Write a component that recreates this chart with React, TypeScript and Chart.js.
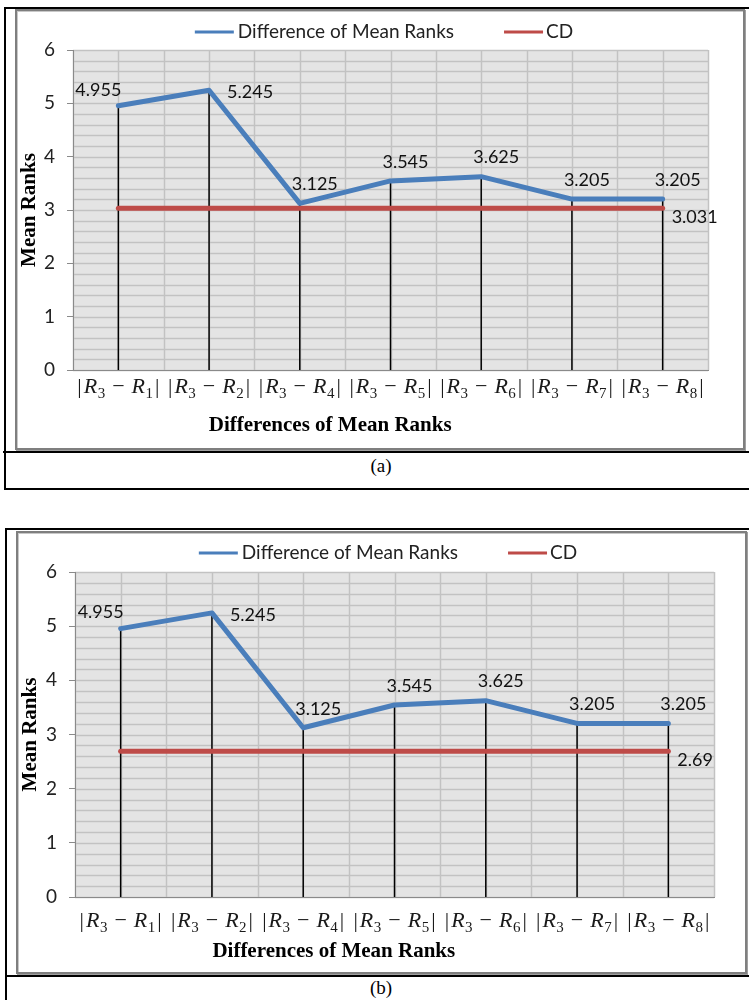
import React, { useEffect, useRef } from 'react';
import { Chart, registerables } from 'chart.js';

Chart.register(...registerables);

// ---------- data ----------
const categories = ['|R3 − R1|', '|R3 − R2|', '|R3 − R4|', '|R3 − R5|', '|R3 − R6|', '|R3 − R7|', '|R3 − R8|'];
const diffMeanRanksA = [4.955, 5.245, 3.125, 3.545, 3.625, 3.205, 3.205];
const cdA = [3.031, 3.031, 3.031, 3.031, 3.031, 3.031, 3.031];
const diffMeanRanksB = [4.955, 5.245, 3.125, 3.545, 3.625, 3.205, 3.205];
const cdB = [2.69, 2.69, 2.69, 2.69, 2.69, 2.69, 2.69];
const seriesNames = ['Difference of Mean Ranks', 'CD'];
const yTitle = 'Mean Ranks';
const xTitle = 'Differences of Mean Ranks';
const captions = ['(a)', '(b)'];

// ---------- style ----------
const BLUE = '#4a7ebb';
const RED = '#be4b48';
const PLOT_BG = '#e4e4e4';
const GRID = '#c2c2c2';
const AXIS = '#8a8a8a';
const SANS = 'Lato';
const SERIF = 'Liberation Serif';

// label placement for each point of the first series
const labelPlacement = ['aboveLeft', 'right', 'above', 'above', 'above', 'above', 'above'];
const placementOffsets: Record<string, [number, number]> = {
  aboveLeft: [-20, -16],
  right: [41, 2],
  above: [15, -19],
};

type Geo = {
  left: number; top: number; width: number; height: number;
  padTop: number; padRight: number; yAxisW: number; xAxisH: number;
  tickBaseDy: number; titleBaseDy: number; legendCy: number; legendCx: number;
};

function drawMathLabel(ctx: CanvasRenderingContext2D, label: string, cx: number, baseline: number) {
  const size = 22;
  const subSize = 15;
  const segs: { t: string; font: string; dy: number; gl: number; gr: number; w?: number }[] = [];
  for (const ch of label) {
    if (ch === ' ') continue;
    if (ch === 'R') segs.push({ t: ch, font: `italic ${size}px "${SERIF}"`, dy: 0, gl: 0, gr: 0 });
    else if (/[0-9]/.test(ch)) segs.push({ t: ch, font: `${subSize}px "${SERIF}"`, dy: 5, gl: 0.5, gr: 0 });
    else if (ch === '−') segs.push({ t: ch, font: `${size}px "${SERIF}"`, dy: 0, gl: 7, gr: 7 });
    else segs.push({ t: ch, font: `${size}px "${SERIF}"`, dy: 0, gl: 2, gr: 2 });
  }
  let total = 0;
  for (const s of segs) {
    ctx.font = s.font;
    s.w = ctx.measureText(s.t).width;
    total += s.gl + s.w + s.gr;
  }
  let x = cx - total / 2;
  ctx.fillStyle = '#1a1a1a';
  ctx.textAlign = 'left';
  ctx.textBaseline = 'alphabetic';
  for (const s of segs) {
    x += s.gl;
    ctx.font = s.font;
    ctx.fillText(s.t, x, baseline + s.dy);
    x += (s.w as number) + s.gr;
  }
}

function MeanRankChart({ diff, cd, geo }: { diff: number[]; cd: number[]; geo: Geo }) {
  const ref = useRef<HTMLCanvasElement>(null);

  useEffect(() => {
    const canvas = ref.current;
    if (!canvas) return;

    const decor = {
      id: 'excelDecor',
      beforeDraw(chart: any) {
        const { ctx, chartArea: a, scales } = chart;
        const ys = scales.y;
        ctx.save();
        ctx.fillStyle = PLOT_BG;
        ctx.fillRect(a.left, a.top, a.right - a.left, a.bottom - a.top);
        ctx.strokeStyle = GRID;
        ctx.lineWidth = 1.5;
        // horizontal gridlines every 0.2
        for (let i = 0; i <= 30; i++) {
          const y = Math.round(ys.getPixelForValue(i * 0.2)) + 0.5;
          ctx.beginPath();
          ctx.moveTo(a.left, y);
          ctx.lineTo(a.right, y);
          ctx.stroke();
        }
        // vertical gridlines at each half category
        const n = categories.length;
        const step = (a.right - a.left) / (n * 2);
        for (let i = 0; i <= n * 2; i++) {
          const x = Math.round(a.left + i * step) + 0.5;
          ctx.beginPath();
          ctx.moveTo(x, a.top);
          ctx.lineTo(x, a.bottom);
          ctx.stroke();
        }
        ctx.restore();
      },
      beforeDatasetsDraw(chart: any) {
        const { ctx, chartArea: a, scales } = chart;
        ctx.save();
        ctx.strokeStyle = '#000';
        ctx.lineWidth = 1.5;
        diff.forEach((v, i) => {
          const x = scales.x.getPixelForValue(i);
          const y = scales.y.getPixelForValue(v);
          ctx.beginPath();
          ctx.moveTo(x, y);
          ctx.lineTo(x, a.bottom);
          ctx.stroke();
        });
        ctx.restore();
      },
      afterDatasetsDraw(chart: any) {
        const { ctx, scales } = chart;
        ctx.save();
        ctx.font = `18px "${SANS}"`;
        ctx.fillStyle = '#111';
        ctx.textBaseline = 'middle';
        ctx.textAlign = 'center';
        diff.forEach((v, i) => {
          const x = scales.x.getPixelForValue(i);
          const y = scales.y.getPixelForValue(v);
          const [dx, dy] = placementOffsets[labelPlacement[i]];
          ctx.fillText(String(v), x + dx, y + dy);
        });
        const last = cd.length - 1;
        const cx = scales.x.getPixelForValue(last);
        const cy = scales.y.getPixelForValue(cd[last]);
        ctx.textAlign = 'left';
        ctx.fillText(String(cd[last]), cx + 9, cy + 9);
        ctx.restore();
      },
      afterDraw(chart: any) {
        const { ctx, chartArea: a, scales } = chart;
        ctx.save();
        // x category labels
        categories.forEach((c, i) => {
          drawMathLabel(ctx, c, scales.x.getPixelForValue(i), a.bottom + geo.tickBaseDy);
        });
        // x axis title
        ctx.font = `bold 21px "${SERIF}"`;
        ctx.fillStyle = '#000';
        ctx.textAlign = 'center';
        ctx.textBaseline = 'alphabetic';
        ctx.fillText(xTitle, a.left + 0.405 * (a.right - a.left), a.bottom + geo.titleBaseDy);
        // legend
        ctx.font = `19px "${SANS}"`;
        const seg = 39;
        const w0 = ctx.measureText(seriesNames[0]).width;
        const w1 = ctx.measureText(seriesNames[1]).width;
        const total = seg + 4 + w0 + 50 + seg + 3 + w1;
        let x = geo.legendCx - total / 2;
        const y = geo.legendCy;
        ctx.lineWidth = 3;
        ctx.strokeStyle = BLUE;
        ctx.beginPath(); ctx.moveTo(x, y); ctx.lineTo(x + seg, y); ctx.stroke();
        x += seg + 4;
        ctx.fillStyle = '#222';
        ctx.textAlign = 'left';
        ctx.textBaseline = 'middle';
        ctx.fillText(seriesNames[0], x, y);
        x += w0 + 50;
        ctx.strokeStyle = RED;
        ctx.beginPath(); ctx.moveTo(x, y); ctx.lineTo(x + seg, y); ctx.stroke();
        x += seg + 3;
        ctx.fillText(seriesNames[1], x, y);
        ctx.restore();
      },
    };

    const chart = new Chart(canvas, {
      type: 'line',
      data: {
        labels: categories,
        datasets: [
          {
            label: seriesNames[0], data: diff, borderColor: BLUE, backgroundColor: BLUE,
            borderWidth: 5, pointRadius: 0, tension: 0, borderCapStyle: 'round', borderJoinStyle: 'round',
          },
          {
            label: seriesNames[1], data: cd, borderColor: RED, backgroundColor: RED,
            borderWidth: 5, pointRadius: 0, tension: 0, borderCapStyle: 'round', borderJoinStyle: 'round',
          },
        ],
      },
      options: {
        responsive: false,
        animation: false,
        devicePixelRatio: 1,
        layout: { padding: { top: geo.padTop, right: geo.padRight, left: 0, bottom: 0 } },
        plugins: { legend: { display: false }, tooltip: { enabled: false } },
        scales: {
          x: {
            type: 'category',
            offset: true,
            ticks: { display: false },
            grid: { display: false },
            border: { display: true, color: AXIS, width: 1 },
            afterFit: (s: any) => { s.height = geo.xAxisH; },
          },
          y: {
            min: 0,
            max: 6,
            ticks: { stepSize: 1, padding: 12, color: '#222', font: { family: SANS, size: 19 } },
            grid: { display: true, drawOnChartArea: false, drawTicks: true, tickLength: 6, color: AXIS },
            border: { display: true, color: AXIS, width: 1 },
            title: {
              display: true, text: yTitle, color: '#000', padding: 0,
              font: { family: SERIF, size: 21, weight: 'bold', lineHeight: 1.1 },
            },
            afterFit: (s: any) => { s.width = geo.yAxisW; },
          },
        },
      } as any,
      plugins: [decor],
    });
    return () => chart.destroy();
  }, []);

  return (
    <canvas
      ref={ref}
      width={geo.width}
      height={geo.height}
      style={{ position: 'absolute', left: geo.left, top: geo.top, width: geo.width, height: geo.height }}
    />
  );
}

const geoA: Geo = {
  left: 18, top: 12, width: 724, height: 435,
  padTop: 38, padRight: 34, yAxisW: 55, xAxisH: 77,
  tickBaseDy: 23, titleBaseDy: 61, legendCy: 20, legendCx: 366,
};
const geoB: Geo = {
  left: 19, top: 534, width: 725, height: 437,
  padTop: 38, padRight: 30, yAxisW: 56, xAxisH: 74,
  tickBaseDy: 30, titleBaseDy: 60, legendCy: 19, legendCx: 369,
};

const line = (left: number, top: number, width: number, height: number): React.CSSProperties => ({
  position: 'absolute', left, top, width, height, background: '#000',
});

const frame = (left: number, top: number, width: number, height: number): React.CSSProperties => ({
  position: 'absolute', left, top, width, height, boxSizing: 'border-box',
  border: '2px solid #7f7f7f', boxShadow: 'inset 1px 1px 0 #c8c8c8, 1px 1px 0 #a0a0a0', background: '#fff',
});

const caption = (top: number): React.CSSProperties => ({
  position: 'absolute', left: 300, top, width: 162, height: 22, textAlign: 'center',
  fontFamily: `"${SERIF}", serif`, fontSize: 19, lineHeight: '22px', color: '#000',
});

export default function App() {
  return (
    <div style={{ position: 'absolute', left: 0, top: 0, width: 749, height: 1000, background: '#fff', overflow: 'hidden' }}>
      {/* table (a) */}
      <div style={line(4, 7, 745, 2)} />
      <div style={line(4, 7, 2, 483)} />
      <div style={line(3, 451, 746, 2)} />
      <div style={line(4, 488, 745, 2)} />
      <div style={frame(15, 9, 730, 441)} />
      <MeanRankChart diff={diffMeanRanksA} cd={cdA} geo={geoA} />
      <div style={caption(455)}>{captions[0]}</div>

      {/* table (b) */}
      <div style={line(5, 528, 744, 2)} />
      <div style={line(5, 528, 2, 472)} />
      <div style={line(5, 975, 744, 2)} />
      <div style={frame(16, 531, 731, 443)} />
      <MeanRankChart diff={diffMeanRanksB} cd={cdB} geo={geoB} />
      <div style={caption(977)}>{captions[1]}</div>
    </div>
  );
}
